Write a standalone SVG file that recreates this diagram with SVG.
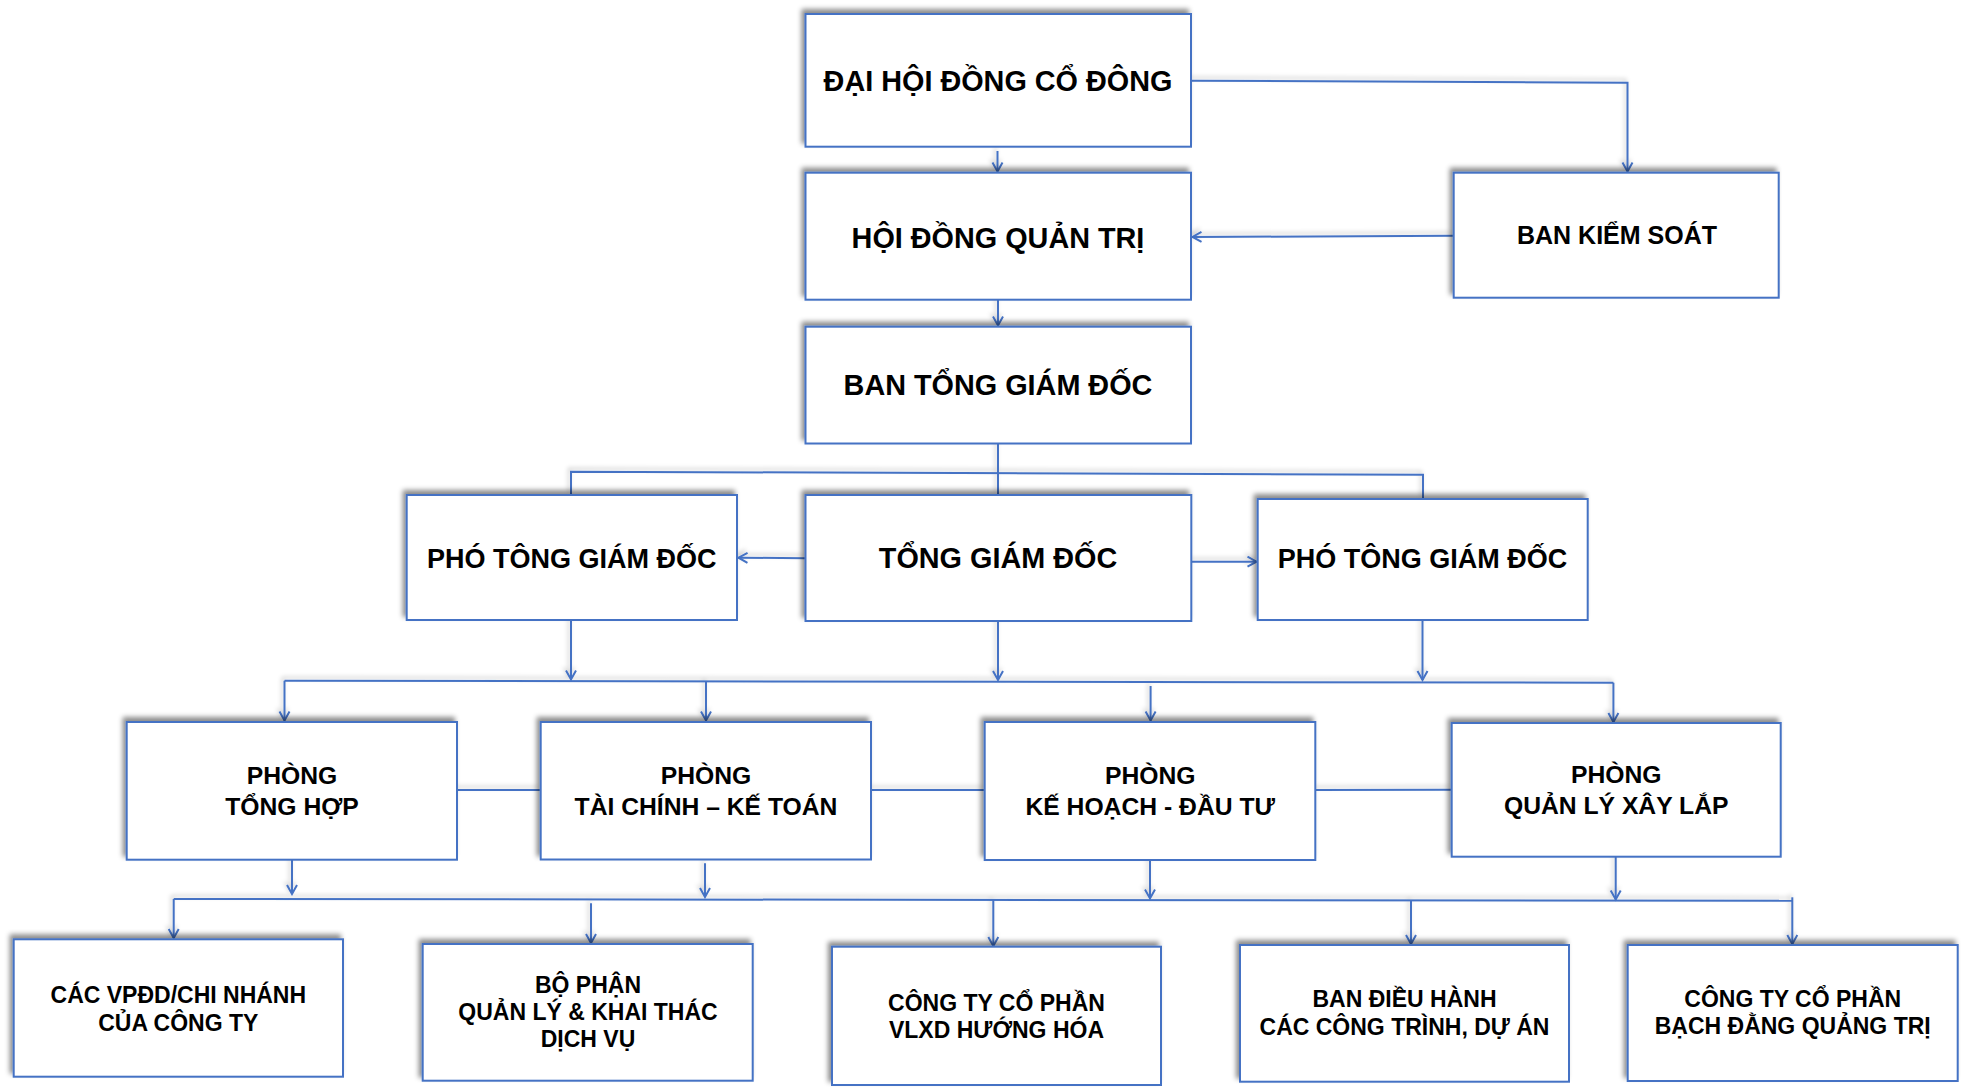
<svg xmlns="http://www.w3.org/2000/svg" width="1963" height="1090" viewBox="0 0 1963 1090">
  <defs>
    <filter id="sh" x="-10%" y="-20%" width="120%" height="140%">
      <feDropShadow dx="-3" dy="-4" stdDeviation="2.5" flood-color="#000" flood-opacity="0.45"/>
    </filter>
    <filter id="lsh" x="-5%" y="-50%" width="110%" height="200%">
      <feDropShadow dx="-2" dy="-3" stdDeviation="2" flood-color="#000" flood-opacity="0.2"/>
    </filter>
    <marker id="arr" markerUnits="userSpaceOnUse" markerWidth="14" markerHeight="14" viewBox="-12 -7 14 14" refX="0" refY="0" orient="auto">
      <path d="M-9,-5 L0,0 L-9,5" fill="none" stroke="#4472C4" stroke-width="2" stroke-linejoin="miter"/>
    </marker>
  </defs>
  <style>
    .box { fill: #ffffff; stroke: #4472C4; stroke-width: 2; filter: url(#sh); }
    .t { font-family: "Liberation Sans", Arial, sans-serif; font-weight: bold; fill: #000; text-anchor: middle; }
    .t1 { font-size: 28.8px; }
    .t2 { font-size: 27px; }
    .t3 { font-size: 25px; }
    .t4 { font-size: 24.7px; }
    .t5 { font-size: 23px; }
    .c { fill: none; stroke: #4472C4; stroke-width: 2; }
    .a { marker-end: url(#arr); }
  </style>
  <rect width="1963" height="1090" fill="#ffffff"/>

  <g id="connectors" filter="url(#lsh)">
    <!-- top -->
    <path class="c a" d="M997.5,151 L997.5,171.5"/>
    <path class="c a" d="M998,300 L998,325.5"/>
    <path class="c a" d="M1191,80.7 L1627.5,82.7 L1627.5,171.5"/>
    <path class="c a" d="M1454,235.7 L1192.5,237"/>
    <!-- Ban tong giam doc branch -->
    <path class="c" d="M998,443.5 L998,495"/>
    <path class="c" d="M571,495 L571,471.7 L1423,474.7 L1423,499"/>
    <path class="c a" d="M805.7,558.3 L738.5,557.7"/>
    <path class="c a" d="M1191.3,561.7 L1256.5,561.7"/>
    <!-- down to phong level -->
    <path class="c a" d="M571,620 L571,679.5"/>
    <path class="c a" d="M998,621 L998,680"/>
    <path class="c a" d="M1422.5,620 L1422.5,680"/>
    <path class="c a" d="M284.5,680.7 L284.5,720.5"/>
    <path class="c" d="M284.5,680.7 L1613.4,682.7"/>
    <path class="c a" d="M1613.4,682.7 L1613.4,722"/>
    <path class="c a" d="M706,681.7 L706,720.5"/>
    <path class="c a" d="M1150.6,686 L1150.6,720.5"/>
    <!-- phong links -->
    <path class="c" d="M457,790 L540.7,790"/>
    <path class="c" d="M871,790 L984.7,790"/>
    <path class="c" d="M1315.3,790 L1451.7,789.7"/>
    <!-- down to bottom level -->
    <path class="c a" d="M292,860 L292,894"/>
    <path class="c a" d="M705,863.3 L705,897"/>
    <path class="c a" d="M1150,860 L1150,898.5"/>
    <path class="c a" d="M1615.7,856.7 L1615.7,899.5"/>
    <path class="c" d="M173.7,899 L1792.3,900.7"/>
    <path class="c a" d="M173.7,899 L173.7,938"/>
    <path class="c a" d="M591,903.3 L591,943"/>
    <path class="c a" d="M993.3,900 L993.3,946"/>
    <path class="c a" d="M1411,901 L1411,944"/>
    <path class="c a" d="M1792.3,897.3 L1792.3,944"/>
  </g>

  <g id="dai-hoi-dong-co-dong">
    <rect class="box" x="805.5" y="14" width="385.5" height="132.7"/>
    <text class="t t1" x="998" y="91">ĐẠI HỘI ĐỒNG CỔ ĐÔNG</text>
  </g>
  <g id="hoi-dong-quan-tri">
    <rect class="box" x="805.5" y="172.7" width="385.5" height="127"/>
    <text class="t t1" x="998" y="248">HỘI ĐỒNG QUẢN TRỊ</text>
  </g>
  <g id="ban-kiem-soat">
    <rect class="box" x="1453.7" y="172.7" width="325" height="125"/>
    <text class="t t3" x="1617" y="244.3">BAN KIỂM SOÁT</text>
  </g>
  <g id="ban-tong-giam-doc">
    <rect class="box" x="805.5" y="326.7" width="385.5" height="116.8"/>
    <text class="t t1" x="998" y="395">BAN TỔNG GIÁM ĐỐC</text>
  </g>
  <g id="pho-tong-giam-doc-1">
    <rect class="box" x="406.7" y="495" width="330.3" height="125"/>
    <text class="t t2" x="571.8" y="567.7">PHÓ TÔNG GIÁM ĐỐC</text>
  </g>
  <g id="tong-giam-doc">
    <rect class="box" x="805.5" y="495" width="385.8" height="126"/>
    <text class="t t1" x="998" y="568.3">TỔNG GIÁM ĐỐC</text>
  </g>
  <g id="pho-tong-giam-doc-2">
    <rect class="box" x="1257.7" y="499" width="330" height="121"/>
    <text class="t t2" x="1422.5" y="568.3">PHÓ TÔNG GIÁM ĐỐC</text>
  </g>

  <g id="phong-tong-hop">
    <rect class="box" x="126.7" y="722" width="330.3" height="137.7"/>
    <text class="t t4" x="292" y="784.3">PHÒNG</text>
    <text class="t t4" x="292" y="815">TỔNG HỢP</text>
  </g>
  <g id="phong-tai-chinh-ke-toan">
    <rect class="box" x="540.7" y="722" width="330.3" height="137.5"/>
    <text class="t t4" x="706" y="784.3">PHÒNG</text>
    <text class="t t4" x="706" y="815">TÀI CHÍNH – KẾ TOÁN</text>
  </g>
  <g id="phong-ke-hoach-dau-tu">
    <rect class="box" x="984.7" y="722" width="330.6" height="138"/>
    <text class="t t4" x="1150.2" y="784.3">PHÒNG</text>
    <text class="t t4" x="1150.2" y="815">KẾ HOẠCH - ĐẦU TƯ</text>
  </g>
  <g id="phong-quan-ly-xay-lap">
    <rect class="box" x="1451.7" y="723" width="329" height="133.7"/>
    <text class="t t4" x="1616.2" y="783.3">PHÒNG</text>
    <text class="t t4" x="1616.2" y="814">QUẢN LÝ XÂY LẮP</text>
  </g>

  <g id="cac-vpdd-chi-nhanh">
    <rect class="box" x="13.7" y="939.3" width="329.3" height="137.4"/>
    <text class="t t5" x="178.3" y="1002.7">CÁC VPĐD/CHI NHÁNH</text>
    <text class="t t5" x="178.3" y="1030.7">CỦA CÔNG TY</text>
  </g>
  <g id="bo-phan-quan-ly-khai-thac">
    <rect class="box" x="422.7" y="944" width="330" height="136.7"/>
    <text class="t t5" x="588" y="992.7">BỘ PHẬN</text>
    <text class="t t5" x="588" y="1020.2">QUẢN LÝ &amp; KHAI THÁC</text>
    <text class="t t5" x="588" y="1046.7">DỊCH VỤ</text>
  </g>
  <g id="cong-ty-vlxd-huong-hoa">
    <rect class="box" x="832" y="946.7" width="329" height="138.3"/>
    <text class="t t5" x="996.5" y="1010.7">CÔNG TY CỔ PHẦN</text>
    <text class="t t5" x="996.5" y="1038.3">VLXD HƯỚNG HÓA</text>
  </g>
  <g id="ban-dieu-hanh">
    <rect class="box" x="1240" y="945" width="329" height="136.7"/>
    <text class="t t5" x="1404.5" y="1007.3">BAN ĐIỀU HÀNH</text>
    <text class="t t5" x="1404.5" y="1035">CÁC CÔNG TRÌNH, DỰ ÁN</text>
  </g>
  <g id="cong-ty-bach-dang-quang-tri">
    <rect class="box" x="1627.7" y="945" width="330" height="136"/>
    <text class="t t5" x="1792.7" y="1006.7">CÔNG TY CỔ PHẦN</text>
    <text class="t t5" x="1792.7" y="1034.3">BẠCH ĐẰNG QUẢNG TRỊ</text>
  </g>
</svg>
